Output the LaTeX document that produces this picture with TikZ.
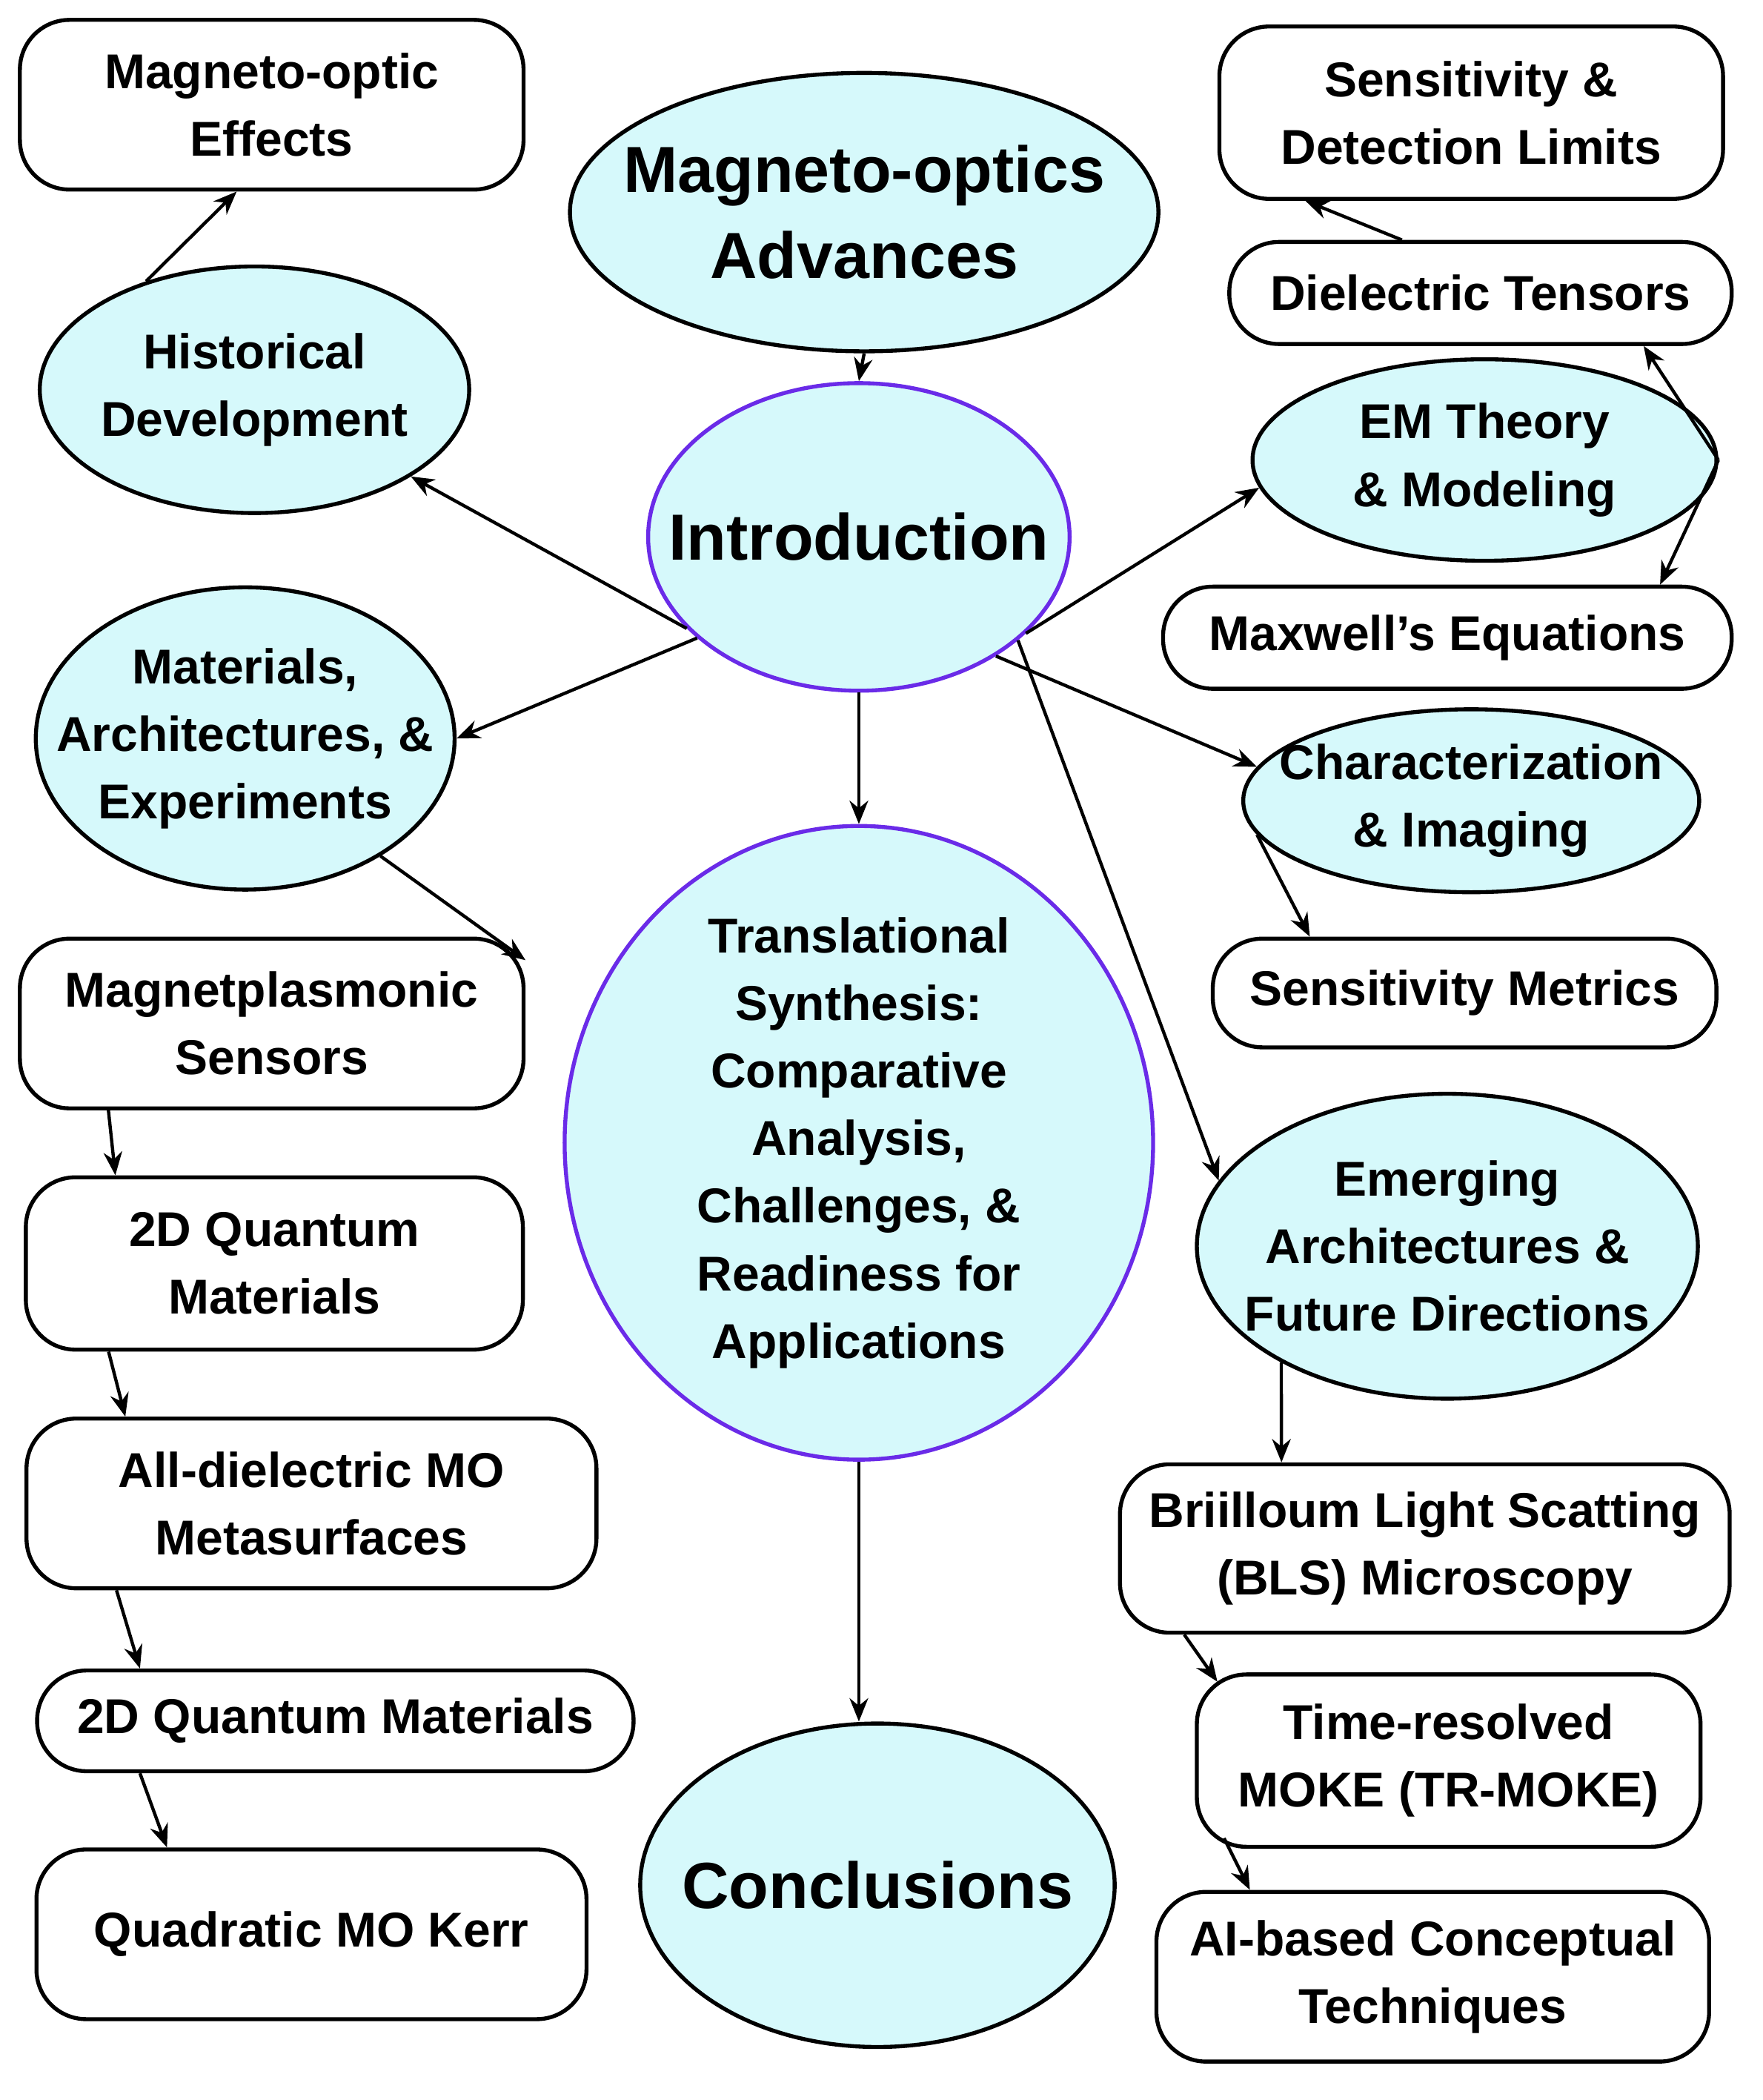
\documentclass[tikz,border=0pt]{standalone}
\usepackage{fontspec}
\setmainfont{Liberation Sans}
\usetikzlibrary{shapes.geometric,arrows.meta}
\definecolor{cy}{HTML}{D6F9FB}
\definecolor{pu}{HTML}{6A2BE8}
\tikzset{
 u/.style={x=0.02cm,y=-0.02cm},
 base/.style={draw=black,line width=1.7pt,inner sep=0pt},
 txt/.style={align=center,font=\bfseries\fontsize{21}{29}\selectfont,inner sep=0pt},
 rbox/.style={base,rectangle,rounded corners=0.75cm},
 ell/.style={base,ellipse,fill=cy},
 big/.style={font=\bfseries\fontsize{28}{37}\selectfont},
 con/.style={line width=1.4pt,-{Stealth[length=10pt,width=8pt]}}
}
\newcommand{\bx}[5]{\node[rbox,minimum width=#3*0.02cm,minimum height=#4*0.02cm] (#1) at (#2) {}; \node[txt] (#1-t) at (#2) {#5};}
\newcommand{\el}[7]{\node[ell,minimum width=#3*0.02cm,minimum height=#4*0.02cm,#5] (#1) at (#2) {}; \node[txt,#6] (#1-t) at (#2) {#7};}
\begin{document}
\begin{tikzpicture}[u]
\useasboundingbox (0,0) rectangle (1330,1584);
\bx{moe}{205,79}{380}{128}{Magneto-optic\\Effects}
\el{adv}{652,160}{444}{210}{}{big}{Magneto-optics\\Advances}
\el{intro}{648,405}{318}{232}{draw=pu}{big}{Introduction}
\el{hist}{192,294}{324}{186}{}{}{Historical\\Development}
\el{mat}{185,557}{316}{228}{}{}{Materials,\\Architectures, \&\\Experiments}
\bx{sens}{1110,85}{380}{130}{Sensitivity \&\\Detection Limits}
\bx{diel}{1117,221}{379}{77}{Dielectric Tensors}
\el{em}{1120,347}{350}{152}{}{}{EM Theory\\\& Modeling}
\bx{maxw}{1092,481}{429}{77}{Maxwell’s Equations}
\el{char}{1110,604}{344}{138}{}{}{Characterization\\\& Imaging}
\bx{smet}{1105,749}{380}{82}{Sensitivity Metrics}
\el{emer}{1092,940}{378}{230}{}{}{Emerging\\Architectures \&\\Future Directions}
\el{trans}{648,862}{444}{478}{draw=pu}{}{Translational\\Synthesis:\\Comparative\\Analysis,\\Challenges, \&\\Readiness for\\Applications}
\el{conc}{662,1422}{358}{244}{}{big}{Conclusions}
\bx{mp}{205,772}{380}{128}{Magnetplasmonic\\Sensors}
\bx{qa}{207,953}{375}{130}{2D Quantum\\Materials}
\bx{ad}{235,1134}{430}{128}{All-dielectric MO\\Metasurfaces}
\bx{qb}{253,1298}{450}{76}{2D Quantum Materials}
\bx{qk}{235,1459}{415}{128}{Quadratic MO Kerr}
\bx{bls}{1075,1168}{460}{127}{Briilloum Light Scatting\\(BLS) Microscopy}
\bx{tr}{1093,1328}{380}{130}{Time-resolved\\MOKE (TR-MOKE)}
\bx{ai}{1081,1491}{417}{128}{AI-based Conceptual\\Techniques}
\draw[con] (hist.135) -- (moe.248);
\draw[con] (adv.south) -- (intro.north);
\draw[con] (intro.208) -- (hist.331);
\draw[con] (intro.212) -- (mat.east);
\draw[con] (intro.south) -- (trans.north);
\draw[con] (intro.330) -- (em.187);
\draw[con] (intro.319) -- (char.171);
\draw[con] (intro.327) -- (emer.164);
\draw[con] (diel.146) -- (sens.208);
\draw[con] (em.east) -- (diel.-18);
\draw[con] (em.east) -- (maxw.14);
\draw[con] (char.189) -- (smet.160);
\draw[con] (mat.-41) -- (mp.14);
\draw[con] (mp.208) -- (qa.151);
\draw[con] (qa.208) -- (ad.155);
\draw[con] (ad.204) -- (qb.165);
\draw[con] (qb.195) -- (qk.149);
\draw[con] (trans.south) -- (conc.north -| trans.south);
\draw[con] (emer.215) -- (bls.149);
\draw[con] ([xshift=1cm]bls.south west) -- ([xshift=0.34cm,yshift=-0.14cm]tr.north west);
\draw[con] ([xshift=0.44cm,yshift=0.16cm]tr.south west) -- ([xshift=1.44cm]ai.north west);
\end{tikzpicture}
\end{document}
